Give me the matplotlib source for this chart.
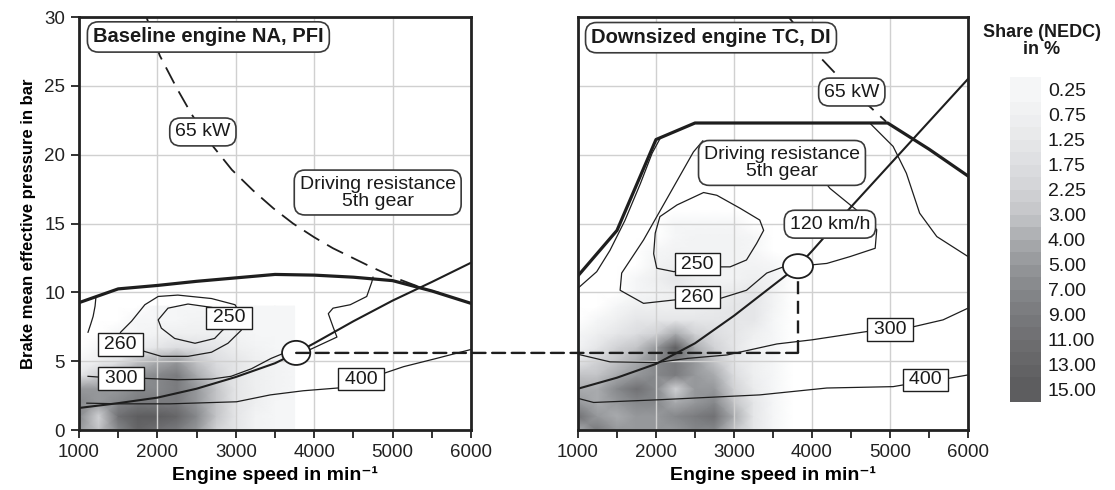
import matplotlib
matplotlib.use('Agg')
import matplotlib.pyplot as plt
import numpy as np
from matplotlib.colors import LinearSegmentedColormap, Normalize
from matplotlib.cm import ScalarMappable
from matplotlib.patches import Ellipse, ConnectionPatch
from matplotlib.ticker import MultipleLocator

plt.rcParams['font.family'] = ['Liberation Sans', 'DejaVu Sans']

# share of NEDC operating time, colour scale steps
share_levels = [0.25, 0.75, 1.25, 1.75, 2.25, 3.00, 4.00, 5.00, 7.00, 9.00, 11.00, 13.00, 15.00]
share_colors = ['#f5f6f7', '#eeeff0', '#e5e6e8', '#dcdde0', '#d1d2d5', '#c3c4c7',
                '#a9abae', '#96989b', '#86888b', '#7a7b7e', '#707073', '#666668', '#5d5d5f']

# --- baseline engine NA, PFI ---
na_grid_speed = [1000, 1250, 1500, 1750, 2000, 2250, 2500, 2750, 3000, 3250, 3500, 3750]
na_grid_bmep = [0, 1, 2, 3, 4, 5, 6, 7, 8, 9]
na_share = [
    [5, 3, 7, 13, 11, 9, 5, 2.25, 1.25, 0.5, 0.25, 0.25],
    [7, 2.25, 11, 15, 15, 13, 7, 3, 1.25, 0.5, 0.25, 0.25],
    [7, 5, 7, 9, 9, 9, 5, 3, 1.25, 0.75, 0.25, 0.25],
    [5, 5, 5, 7, 7, 9, 5, 3, 1.25, 0.75, 0.5, 0.25],
    [1.25, 2.25, 4, 5, 7, 9, 4, 2.25, 1.25, 0.75, 0.5, 0.25],
    [0.25, 0.75, 1.25, 3, 4, 5, 3, 1.75, 1.25, 0.75, 0.5, 0.25],
    [0, 0.25, 0.5, 0.75, 1.25, 1.75, 1.5, 1.25, 0.75, 0.5, 0.25, 0.25],
    [0, 0, 0.25, 0.25, 0.5, 0.75, 0.75, 0.75, 0.5, 0.25, 0.25, 0.25],
    [0, 0, 0, 0.25, 0.25, 0.25, 0.5, 0.5, 0.25, 0.25, 0.25, 0.25],
    [0, 0, 0, 0, 0.25, 0.25, 0.25, 0.25, 0.25, 0.25, 0.25, 0.25],
]

na_full_speed = [1000, 1500, 2000, 2500, 3000, 3500, 4000, 4500, 5000, 5500, 6000]
na_full_bmep = [9.25, 10.25, 10.5, 10.8, 11.05, 11.3, 11.25, 11.1, 10.85, 10.1, 9.2]

na_power_speed = [1860, 2030, 2250, 2440, 2710, 2950, 3220, 3480, 3730, 4000, 4240, 4670, 5010, 5430, 5600]
na_power_bmep = [30.0, 27.2, 24.8, 22.9, 20.6, 18.9, 17.4, 16.1, 15.0, 14.0, 13.2, 12.0, 11.1, 10.2, 9.95]

na_road_speed = [1000, 1500, 2000, 2500, 3000, 3500, 3770, 4000, 4500, 5000, 5500, 6000]
na_road_bmep = [1.6, 1.95, 2.35, 3.0, 3.85, 4.85, 5.6, 6.3, 7.9, 9.4, 10.75, 12.15]

na_c250_speed = [2840, 2730, 2480, 2220, 2050, 2010, 2135, 2390, 2700, 2900, 2840]
na_c250_bmep = [7.3, 6.65, 6.3, 6.65, 7.4, 8.0, 8.85, 9.15, 8.9, 8.0, 7.3]
na_c260_speed = [1500, 1530, 1670, 1840, 2010, 2260, 2690, 2990, 3100, 3070, 2900, 2690, 2390, 2050, 1840, 1700]
na_c260_bmep = [6.5, 7.1, 7.9, 9.1, 9.7, 9.8, 9.55, 9.1, 8.0, 7.25, 6.3, 5.65, 5.35, 5.35, 5.7, 6.0]
na_c260b_speed = [1115, 1150, 1180, 1205, 1215]
na_c260b_bmep = [7.1, 7.7, 8.25, 9.0, 9.6]
na_c300_speed = [1115, 1240, 1840, 2260, 2690, 2940, 3200, 3450, 3600, 3950, 4290, 4240, 4180, 4240, 4460, 4670, 4735, 4750]
na_c300_bmep = [3.9, 3.85, 3.75, 3.65, 3.7, 3.9, 4.45, 5.2, 5.55, 5.85, 6.75, 7.5, 8.45, 8.85, 9.1, 9.7, 10.75, 11.1]
na_c400_speed = [1100, 1520, 2160, 3010, 3440, 3860, 4300, 4880, 5140, 5560, 6000]
na_c400_bmep = [1.95, 1.9, 1.9, 2.05, 2.55, 2.85, 3.05, 4.1, 4.6, 5.2, 5.85]

# --- downsized engine TC, DI ---
tc_grid_speed = [1000, 1250, 1500, 1750, 2000, 2250, 2500, 2750, 3000, 3250, 3500, 3750]
tc_grid_bmep = list(range(17))
tc_share = [
    [4, 9, 5, 5, 5, 5, 7, 7, 3, 1.25, 0.25, 0],
    [11, 5, 4, 5, 5, 7, 9, 11, 4, 1.25, 0.25, 0],
    [5, 4, 5, 7, 7, 4, 5, 7, 3, 1.25, 0.25, 0],
    [4, 4, 7, 11, 7, 2.25, 5, 5, 2.25, 1, 0.25, 0],
    [3, 3, 4, 5, 7, 9, 5, 4, 1.75, 0.75, 0.25, 0],
    [1.25, 2.25, 3, 4, 7, 9, 5, 3, 1.25, 0.75, 0.25, 0],
    [0.5, 1.25, 2.25, 3, 5, 15, 4, 2.25, 1.25, 0.5, 0.25, 0],
    [0.25, 0.75, 1.25, 1.75, 2.25, 4, 2.25, 1.75, 1.25, 0.75, 0.25, 0],
    [0, 0.25, 0.75, 1.25, 1.25, 1.25, 1.25, 1.25, 1.25, 1.25, 0.25, 0],
    [0, 0, 0.25, 0.75, 0.75, 0.75, 0.75, 1, 1.25, 1.25, 0.5, 0],
    [0, 0, 0, 0.25, 0.5, 0.75, 0.75, 0.75, 1, 1.25, 0.5, 0],
    [0, 0, 0, 0.25, 0.75, 1.25, 0.75, 0.5, 0.5, 0.75, 0.5, 0],
    [0, 0, 0, 0, 0.5, 0.75, 0.5, 0.5, 0.5, 0.5, 0.25, 0],
    [0, 0, 0, 0, 0.25, 0.5, 0.5, 0.5, 0.5, 0.25, 0, 0],
    [0, 0, 0, 0, 0, 0.25, 0.5, 0.5, 0.5, 0.25, 0, 0],
    [0, 0, 0, 0, 0, 0.25, 0.25, 0.25, 0.25, 0, 0, 0],
    [0, 0, 0, 0, 0, 0, 0, 0, 0, 0, 0, 0],
]

tc_full_speed = [1000, 1500, 2000, 2500, 3000, 3500, 4000, 4500, 4970, 5500, 6000]
tc_full_bmep = [11.2, 14.5, 21.1, 22.3, 22.3, 22.3, 22.3, 22.3, 22.3, 20.4, 18.45]

tc_power_speed = [3700, 3900, 4100, 4300, 4500, 4700, 4950]
tc_power_bmep = [30.0, 28.6, 27.1, 25.9, 24.7, 23.7, 22.4]

tc_road_speed = [1000, 1500, 2000, 2500, 3000, 3500, 3820, 4000, 4500, 5000, 5500, 6000]
tc_road_bmep = [3.0, 3.8, 4.8, 6.3, 8.3, 10.5, 11.9, 13.0, 16.2, 19.3, 22.4, 25.5]

tc_c250_speed = [2300, 2230, 2010, 1970, 1990, 2050, 2270, 2610, 2780, 3080, 3330, 3380, 3290, 3160, 2950, 2820, 2600]
tc_c250_bmep = [11.6, 11.5, 11.75, 12.8, 14.3, 15.5, 16.35, 17.25, 17.05, 16.1, 15.25, 14.5, 13.55, 12.35, 11.85, 11.85, 12.0]
tc_c260_speed = [2300, 2240, 1840, 1540, 1560, 1840, 2180, 2480, 2600]
tc_c260_bmep = [9.5, 9.45, 9.2, 10.15, 11.4, 13.8, 17.2, 20.2, 21.0]
tc_c260r_speed = [4100, 4230, 4620, 4830, 4810, 4490, 4190, 3820, 3680, 3420, 3160, 2820, 2700]
tc_c260r_bmep = [18.5, 17.55, 15.75, 14.55, 13.2, 12.6, 12.1, 11.9, 11.95, 11.4, 10.15, 9.55, 9.6]
tc_outer_left_speed = [1000, 1240, 1410, 1600, 1800, 1950, 2050]
tc_outer_left_bmep = [10.3, 11.5, 13.05, 15.2, 17.9, 20.1, 21.15]
tc_outer_right_speed = [4740, 5040, 5210, 5380, 5600, 6000]
tc_outer_right_bmep = [22.3, 20.6, 18.65, 15.75, 14.05, 12.6]
tc_c300_speed = [1000, 1410, 2010, 2400, 2910, 3550, 4000, 4700, 5300, 5680, 6000]
tc_c300_bmep = [5.5, 4.95, 4.9, 5.2, 5.45, 6.25, 6.55, 7.15, 7.5, 8.0, 8.85]
tc_c400_speed = [1000, 1200, 2050, 3330, 4190, 5040, 5300, 5750, 6000]
tc_c400_bmep = [2.3, 2.0, 2.2, 2.55, 3.05, 3.15, 3.4, 3.75, 4.0]

# operating point at 120 km/h
cruise_speed_na = 3770
cruise_speed_tc = 3820
cruise_bmep_na = 5.6
cruise_bmep_tc = 11.9

# colour map: level k sits in the middle of band k on the bar
pos = [0.0] + [(k + 0.5) / 13 for k in range(13)] + [1.0]
cols = [share_colors[0]] + share_colors + [share_colors[-1]]
cmap_bar = LinearSegmentedColormap.from_list('share_bar', list(zip(pos, cols)), N=26)
cmap_map = LinearSegmentedColormap.from_list('share_map', list(zip(pos, cols)), N=256)
cmap_map.set_under('white')
lvl_x = [0.0] + share_levels
lvl_y = [-1.0] + [k + 0.5 for k in range(13)]


def share_mesh(ax, speed, bmep, share):
    X, Y = np.meshgrid(speed, bmep)
    idx = np.interp(np.array(share, dtype=float), lvl_x, lvl_y)
    ax.pcolormesh(X, Y, idx, shading='gouraud', cmap=cmap_map,
                  norm=Normalize(0, 13), zorder=0.8)


def setup_axes(ax, show_y):
    ax.set_xlim(1000, 6000)
    ax.set_ylim(0, 30)
    ax.xaxis.set_major_locator(MultipleLocator(1000))
    ax.xaxis.set_minor_locator(MultipleLocator(500))
    ax.yaxis.set_major_locator(MultipleLocator(5))
    ax.grid(True, which='major', color='#d0d0d0', lw=1.0)
    for s in ax.spines.values():
        s.set_linewidth(2.0)
        s.set_color('#222222')
    ax.tick_params(which='both', direction='out', length=6, width=1.3,
                   colors='#222222', labelsize=13.5, pad=4)
    ax.set_xlabel('Engine speed in min\u207b\u00b9', fontsize=14,
                  fontweight='bold', labelpad=4)
    if show_y:
        ax.set_ylabel('Brake mean effective pressure in bar', fontsize=12,
                      fontweight='bold', labelpad=6)
    else:
        ax.tick_params(axis='y', left=False, labelleft=False)


def line(ax, x, y, lw, **kw):
    ax.plot(x, y, color='#1e1e1e', lw=lw, solid_joinstyle='round', **kw)


def round_box(ax, x, y, txt, bold=False, size=14):
    ax.text(x, y, txt, ha='center', va='center', fontsize=size,
            fontweight='bold' if bold else 'normal', linespacing=1.0, zorder=6,
            color='#1a1a1a',
            bbox=dict(boxstyle='round,pad=0.28,rounding_size=0.55', fc='white',
                      ec='#3a3a3a', lw=1.2))


def value_box(ax, x, y, txt):
    ax.text(x, y, '\u2009' + txt + '\u2009', ha='center', va='center', fontsize=14,
            zorder=6, color='#1a1a1a',
            bbox=dict(boxstyle='square,pad=0.14', fc='white',
                      ec='#1e1e1e', lw=1.0))


fig = plt.figure(figsize=(11.15, 4.9), dpi=100)
ax1 = fig.add_axes([79 / 1115, 60 / 490, 392 / 1115, 413 / 490])
ax2 = fig.add_axes([578 / 1115, 60 / 490, 390 / 1115, 413 / 490])
cax = fig.add_axes([1010 / 1115, 88 / 490, 31 / 1115, 325 / 490])

# baseline engine
setup_axes(ax1, True)
share_mesh(ax1, na_grid_speed, na_grid_bmep, na_share)
line(ax1, na_c250_speed, na_c250_bmep, 0.9)
line(ax1, na_c260_speed, na_c260_bmep, 0.9)
line(ax1, na_c260b_speed, na_c260b_bmep, 0.9)
line(ax1, na_c300_speed, na_c300_bmep, 0.9)
line(ax1, na_c400_speed, na_c400_bmep, 0.9)
line(ax1, na_power_speed, na_power_bmep, 1.3, ls=(0, (10, 5)))
line(ax1, na_road_speed, na_road_bmep, 1.5)
line(ax1, na_full_speed, na_full_bmep, 2.3)
round_box(ax1, 2650, 28.55, 'Baseline engine NA, PFI', bold=True, size=14.5)
round_box(ax1, 2580, 21.65, '65 kW')
round_box(ax1, 4810, 17.25, 'Driving resistance\n5th gear')
value_box(ax1, 2910, 8.15, '250')
value_box(ax1, 1530, 6.2, '260')
value_box(ax1, 1540, 3.75, '300')
value_box(ax1, 4595, 3.7, '400')
ax1.add_patch(Ellipse((cruise_speed_na, cruise_bmep_na), 360, 1.75, fc='white',
                      ec='#1e1e1e', lw=1.3, zorder=7))

# downsized engine
setup_axes(ax2, False)
share_mesh(ax2, tc_grid_speed, tc_grid_bmep, tc_share)
line(ax2, tc_c250_speed, tc_c250_bmep, 0.9)
line(ax2, tc_c260_speed, tc_c260_bmep, 0.9)
line(ax2, tc_c260r_speed, tc_c260r_bmep, 0.9)
line(ax2, tc_outer_left_speed, tc_outer_left_bmep, 0.9)
line(ax2, tc_outer_right_speed, tc_outer_right_bmep, 0.9)
line(ax2, tc_c300_speed, tc_c300_bmep, 0.9)
line(ax2, tc_c400_speed, tc_c400_bmep, 0.9)
line(ax2, tc_power_speed, tc_power_bmep, 1.3, ls=(0, (10, 5)))
line(ax2, tc_road_speed, tc_road_bmep, 1.5)
line(ax2, tc_full_speed, tc_full_bmep, 2.3)
round_box(ax2, 2705, 28.5, 'Downsized engine TC, DI', bold=True, size=14.5)
round_box(ax2, 4510, 24.55, '65 kW')
round_box(ax2, 3615, 19.4, 'Driving resistance\n5th gear')
round_box(ax2, 4230, 14.95, '120 km/h')
value_box(ax2, 2532, 12.05, '250')
value_box(ax2, 2532, 9.66, '260')
value_box(ax2, 5000, 7.3, '300')
value_box(ax2, 5455, 3.65, '400')

# same load point carried over to the downsized engine
dash = (0, (5.5, 2.8))
ax2.plot([cruise_speed_tc, cruise_speed_tc], [cruise_bmep_na, cruise_bmep_tc],
         color='#1e1e1e', lw=1.7, ls=dash, zorder=4)
con = ConnectionPatch(xyA=(cruise_speed_na, cruise_bmep_na), coordsA=ax1.transData,
                      xyB=(cruise_speed_tc, cruise_bmep_na), coordsB=ax2.transData,
                      color='#1e1e1e', lw=1.7, ls=dash, zorder=4)
fig.add_artist(con)
ax2.add_patch(Ellipse((cruise_speed_tc, cruise_bmep_tc), 385, 1.75, fc='white',
                      ec='#1e1e1e', lw=1.3, zorder=7))

# colour bar
cb = fig.colorbar(ScalarMappable(norm=Normalize(0, 13), cmap=cmap_bar), cax=cax)
cb.set_ticks(np.arange(13) + 0.5, labels=[f'{v:.2f}' for v in share_levels])
cax.invert_yaxis()
cb.outline.set_visible(False)
cax.tick_params(length=0, labelsize=14, pad=5, colors='#1a1a1a')
fig.text(0.9345, 1 - 24 / 490, 'Share (NEDC)\nin %', ha='center', va='top',
         fontsize=13, fontweight='bold', linespacing=1.0, color='#1a1a1a')

fig.savefig('out.png', dpi=100)
